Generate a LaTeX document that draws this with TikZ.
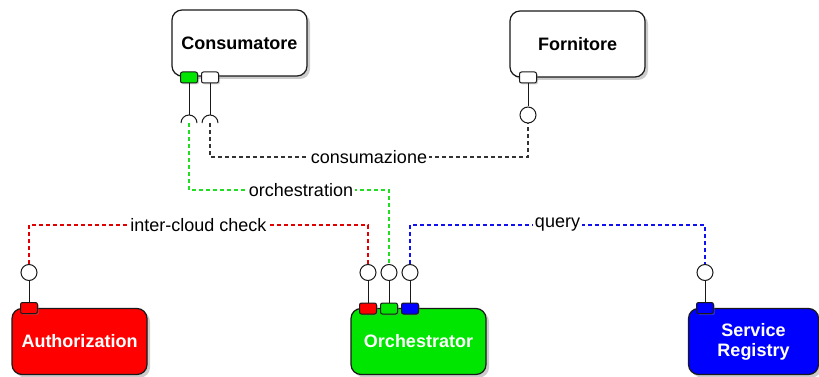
\documentclass[tikz,border=0pt]{standalone}
\usepackage{fontspec}
\setmainfont{Liberation Sans}
\usetikzlibrary{calc}
\usetikzlibrary{shadows}
\usepackage[svgnames]{xcolor}
\definecolor{reddash}{HTML}{E00000}
\definecolor{greendash}{HTML}{22DD22}
\definecolor{bluedash}{HTML}{1010F0}
\definecolor{greydash}{HTML}{333333}
\definecolor{orchgreen}{HTML}{00E600}
\tikzset{
  sys/.style={draw=black!90,line width=1.2pt,rounded corners=10pt,
    minimum width=135pt,minimum height=66pt,inner sep=2pt,align=center,
    font=\fontsize{18}{20}\selectfont\bfseries,
    drop shadow={opacity=0.4,shadow xshift=3pt,shadow yshift=-3pt}},
  port/.style={draw=black!90,line width=1pt,rounded corners=2pt,
    minimum width=17pt,minimum height=11pt,inner sep=0pt,
    drop shadow={opacity=0.35,shadow xshift=1.5pt,shadow yshift=-1.5pt}},
  lolli/.style={circle,draw=black!90,fill=white,line width=1pt,
    minimum size=16pt,inner sep=0pt},
  stick/.style={draw=black!90,line width=1pt},
  link/.style={line width=1.1pt,dash pattern=on 4pt off 3pt},
  lbl/.style={fill=white,inner sep=1.5pt,text=black,font=\fontsize{18}{20}\selectfont}
}

\begin{document}
\begin{tikzpicture}[x=1pt,y=-1pt]
  \useasboundingbox (0,0) rectangle (819,377);

  % 系统框
  \node[sys,fill=white] (cons) at (239.5,43) {Consumatore};
  \node[sys,fill=white] (forn) at (577.5,44) {Fornitore};
  \node[sys,fill=red,text=white] (auth) at (79.5,341.5) {Authorization};
  \node[sys,fill=orchgreen,text=white] (orch) at (418.5,341.5) {Orchestrator};
  \node[sys,fill=blue,text=white,minimum width=130pt] (reg) at (753.5,341.5) {Service\\Registry};

  % 端口
  \node[port,fill=orchgreen] (pC1) at (189,77.5) {};
  \node[port,fill=white] (pC2) at (210,77.5) {};
  \node[port,fill=white] (pF) at (528,77.5) {};
  \node[port,fill=red] (pA) at (29,308) {};
  \node[port,fill=red] (pO1) at (368,308.5) {};
  \node[port,fill=orchgreen] (pO2) at (389,308.5) {};
  \node[port,fill=blue] (pO3) at (410,308.5) {};
  \node[port,fill=blue] (pR) at (705,308) {};

  % 接口圆
  \node[lolli] (lF) at (528,115) {};
  \node[lolli] (lA) at (29,272.5) {};
  \node[lolli] (lO1) at (368,272.5) {};
  \node[lolli] (lO2) at (389,272.5) {};
  \node[lolli] (lO3) at (410,272.5) {};
  \node[lolli] (lR) at (705,272.5) {};

  % 插座
  \coordinate (sC1) at (189,123);
  \coordinate (sC2) at (210,123);
  \draw[stick] ($(sC1)+(-8,0)$) arc[start angle=180,end angle=0,radius=8pt];
  \draw[stick] ($(sC2)+(-8,0)$) arc[start angle=180,end angle=0,radius=8pt];
  \draw[stick] (pC1.south) -- ($(sC1)+(0,-8)$);
  \draw[stick] (pC2.south) -- ($(sC2)+(0,-8)$);

  % 连线
  \draw[stick] (pF.south) -- (lF.north);
  \draw[stick] (lA.south) -- (pA.north);
  \draw[stick] (lO1.south) -- (pO1.north);
  \draw[stick] (lO2.south) -- (pO2.north);
  \draw[stick] (lO3.south) -- (pO3.north);
  \draw[stick] (lR.south) -- (pR.north);

  % 虚线
  \draw[link,draw=greydash] (sC2) |- node[lbl,pos=0.75] {consumazione} (lF.south |- 0,157) -- (lF.south);
  \draw[link,draw=greendash] (sC1) |- node[lbl,pos=0.78] {orchestration} (lO2.north |- 0,190) -- (lO2.north);
  \draw[link,draw=reddash] (lA.north) |- node[lbl,pos=0.75] {inter-cloud check} (lO1.north |- 0,225) -- (lO1.north);
  \draw[link,draw=bluedash] (lO3.north) |- node[lbl,pos=0.75] {query} (lR.north |- 0,225) -- (lR.north);
\end{tikzpicture}
\end{document}
